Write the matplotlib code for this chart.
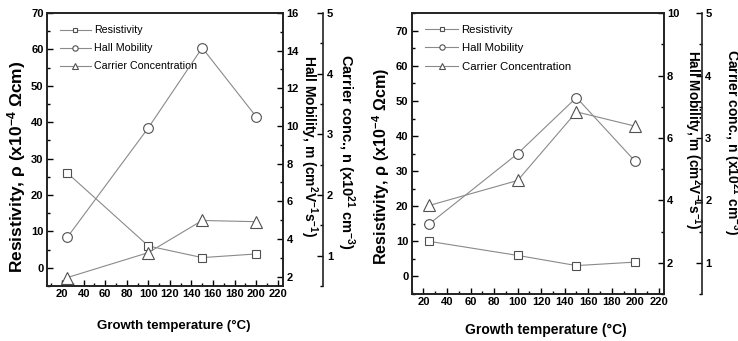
import numpy as np
import matplotlib
matplotlib.use('Agg')
import matplotlib.pyplot as plt
from matplotlib.ticker import MultipleLocator

# Daten (links: Panel a, rechts: Panel b)
temp = [25, 100, 150, 200]

rho_a = [26, 6, 2.8, 3.8]
mu_a = [4.1, 9.9, 14.15, 10.5]
n_a = [0.64, 1.05, 1.58, 1.56]

rho_b = [10, 6, 3.1, 4.1]
mu_b = [3.25, 5.5, 7.3, 5.25]
n_b = [1.92, 2.32, 3.42, 3.19]

plt.rcParams['font.family'] = ['Liberation Sans', 'DejaVu Sans']
plt.rcParams['mathtext.default'] = 'regular'

linecol = '#8a8a8a'
edgecol = '#505050'
tickfont = 8

fig = plt.figure(figsize=(7.38, 3.41), dpi=100)


def panel(rect, rho, mu, n, xlim, ylim, mulim, offset, sizes, pos, leg_xy, legsize):
    ax = fig.add_axes(rect)
    ax2 = ax.twinx()
    ax3 = ax.twinx()
    ax3.spines['right'].set_position(('outward', offset))
    for s in ['top', 'left', 'bottom']:
        ax3.spines[s].set_visible(False)

    l1, = ax.plot(temp, rho, '-', color=linecol, lw=0.8, marker='s', ms=6,
                  mfc='white', mec=edgecol, mew=0.8, label='Resistivity')
    l2, = ax2.plot(temp, mu, '-', color=linecol, lw=0.8, marker='o', ms=7,
                   mfc='white', mec=edgecol, mew=0.8, label='Hall Mobility')
    l3, = ax3.plot(temp, n, '-', color=linecol, lw=0.8, marker='^', ms=8,
                   mfc='white', mec=edgecol, mew=0.8, label='Carrier Concentration')

    ax.set_xlim(*xlim)
    ax.set_ylim(*ylim)
    ax2.set_ylim(*mulim)
    ax3.set_ylim(0.5, 5)

    ax.xaxis.set_major_locator(MultipleLocator(20))
    ax.xaxis.set_minor_locator(MultipleLocator(10))
    ax.yaxis.set_minor_locator(MultipleLocator(5))
    ax2.yaxis.set_minor_locator(MultipleLocator(1))
    ax3.yaxis.set_minor_locator(MultipleLocator(0.5))
    ax.set_yticks(np.arange(0, 71, 10))
    ax2.set_yticks(np.arange(2, mulim[1] + 0.1, 2))
    ax3.set_yticks([1, 2, 3, 4, 5])

    for a in (ax, ax2, ax3):
        a.tick_params(which='major', direction='in', length=4, width=1,
                      labelsize=tickfont, pad=2.5)
        a.tick_params(which='minor', direction='in', length=2.2, width=1)
        for lab in a.get_xticklabels() + a.get_yticklabels():
            lab.set_fontweight('bold')
        for s in a.spines.values():
            s.set_linewidth(1.2)
            s.set_color('#222222')

    xl = ax.set_xlabel('Growth temperature (\u00b0C)', fontsize=sizes[0], fontweight='bold')
    yl = ax.set_ylabel('Resistivity, \u03c1 (x10$^{-4}$ \u03a9cm)', fontsize=sizes[1],
                       fontweight='bold')
    ml = ax2.set_ylabel('Hall Mobility, m (cm$^{2}$V$^{-1}$s$^{-1}$)', rotation=270,
                        fontsize=sizes[2], fontweight='bold')
    nl = ax3.set_ylabel('Carrier conc., n (x10$^{21}$ cm$^{-3}$)', rotation=270,
                        fontsize=sizes[3], fontweight='bold')
    # Beschriftungen an die Stellen aus der Vorlage setzen
    ax.xaxis.set_label_coords(*pos[0])
    ax.yaxis.set_label_coords(*pos[1])
    ax2.yaxis.set_label_coords(*pos[2])
    ax3.yaxis.set_label_coords(*pos[3])
    for t in (xl, yl, ml, nl):
        t.set_va('center')
        t.set_ha('center')

    ax.legend(handles=[l1, l2, l3], loc='upper left', bbox_to_anchor=leg_xy,
              frameon=False, fontsize=legsize, markerscale=0.55, handlelength=2.9,
              handletextpad=0.3, labelspacing=0.75, borderpad=0, borderaxespad=0)
    return ax


panel([0.0637, 0.1613, 0.3198, 0.8006], rho_a, mu_a, n_a, (6, 225), (-5, 70),
      (1.5, 16), 29, (9.5, 12.5, 10, 10.5),
      [(0.536, -0.1465), (-0.127, 0.436), (1.108, 0.513), (1.267, 0.489)],
      (0.055, 0.955), 7.7)
panel([0.5579, 0.1378, 0.3412, 0.8232], rho_b, mu_b, n_b, (10, 224), (-5, 75),
      (1, 10), 27.5, (10, 11.6, 9.8, 10),
      [(0.533, -0.128), (-0.122, 0.456), (1.115, 0.549), (1.272, 0.542)],
      (0.053, 0.96), 8.2)

plt.savefig('out.png', dpi=100)
